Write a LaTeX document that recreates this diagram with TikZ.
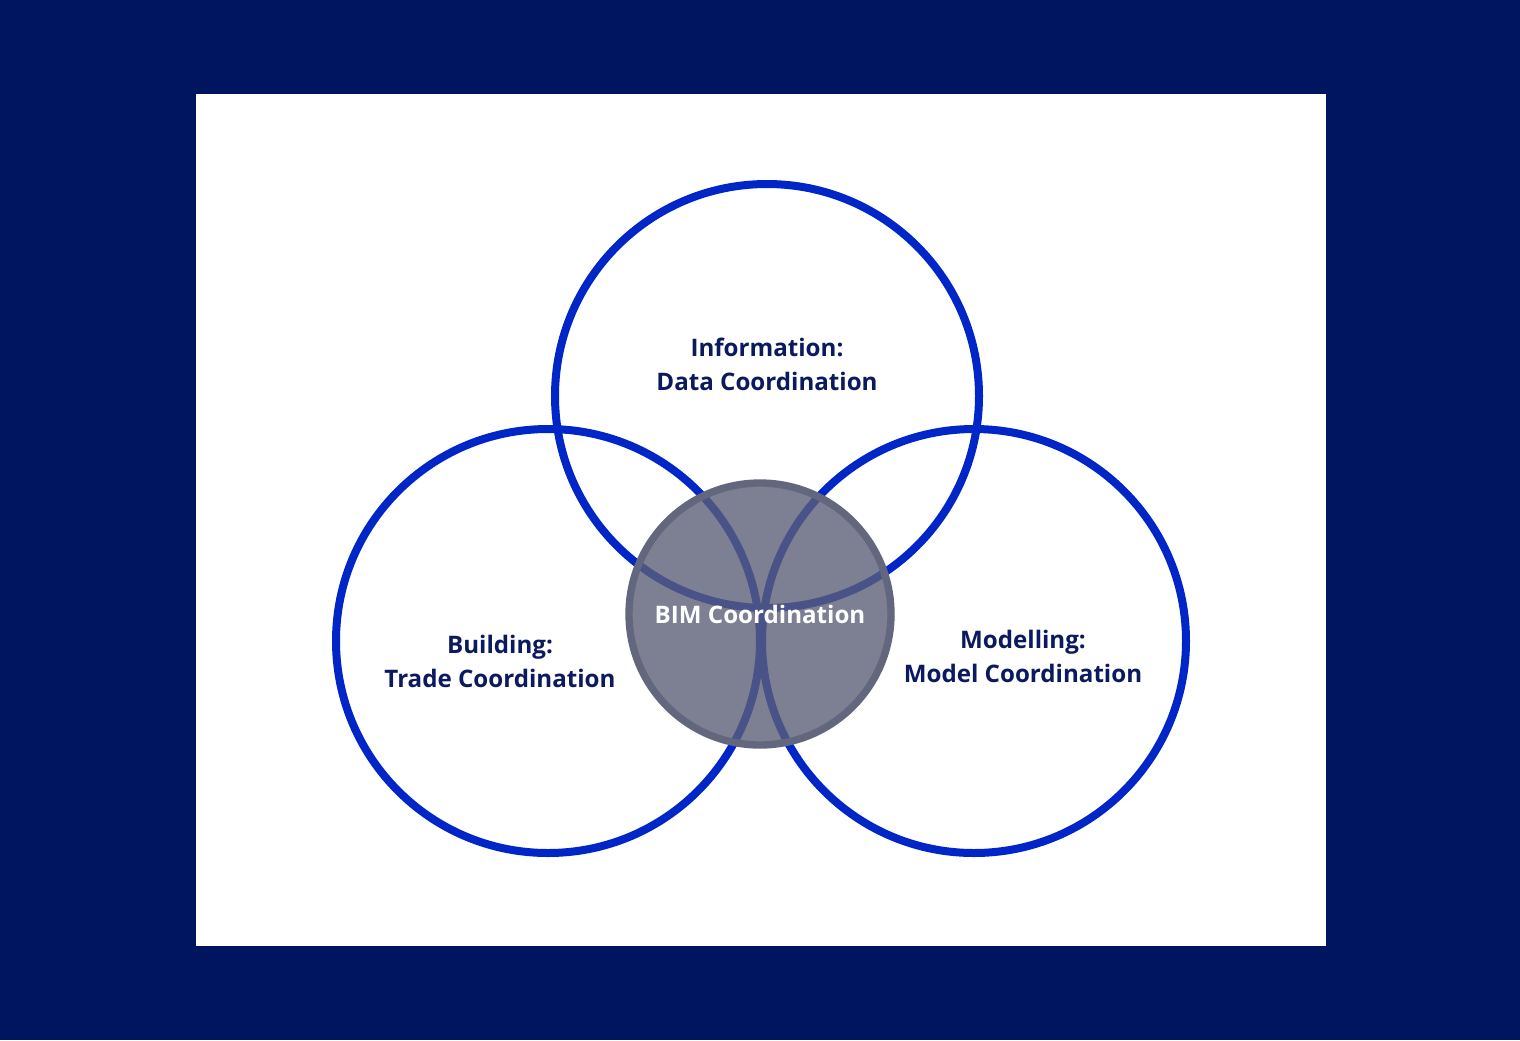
\documentclass[tikz,border=0pt]{standalone}
\usepackage{fontspec}
\setmainfont{Open Sans}
\begin{document}
\begin{tikzpicture}[x=0.75pt,y=-0.75pt,
  ring/.style={draw=ringblue,line width=6pt},
  lbl/.style={text=navytext,font=\fontsize{18.1}{25.5}\selectfont\bfseries,align=center,inner sep=0pt},
]
\definecolor{bgnavy}{HTML}{001560}
\definecolor{ringblue}{HTML}{0026C8}
\definecolor{navytext}{HTML}{0B1A5E}
\definecolor{grayfill}{RGB}{93,95,119}
\definecolor{grayedge}{HTML}{62677E}
\fill[bgnavy] (0,0) rectangle (1520,1040);
\useasboundingbox (0,0) rectangle (1520,1040);
\fill[white] (196,94) rectangle (1326,946);
\node[circle,ring,minimum size=424*0.75pt,inner sep=0pt] (top) at (767,396) {};
\node[circle,ring,minimum size=424*0.75pt,inner sep=0pt] (left) at (548,641) {};
\node[circle,ring,minimum size=424*0.75pt,inner sep=0pt] (right) at (974,641) {};
\node[circle,fill=grayfill,fill opacity=0.8,draw=grayedge,draw opacity=1,line width=5.5pt,minimum size=262*0.75pt,inner sep=0pt] (bim) at (760,614) {};
\node[lbl,text=white] (bimtext) at (760,614) {BIM Coordination};
\node[lbl] (toptext) at (767,364) {Information:\\Data Coordination};
\node[lbl] (lefttext) at (500,661) {Building:\\Trade Coordination};
\node[lbl] (righttext) at (1023,656) {Modelling:\\Model Coordination};
\end{tikzpicture}
\end{document}
